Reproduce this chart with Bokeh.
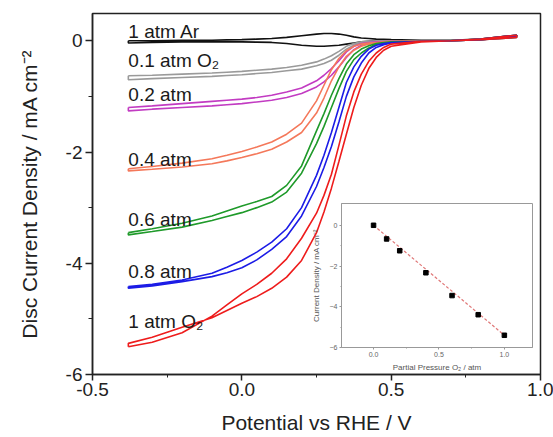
from bokeh.plotting import figure
from bokeh.models import FixedTicker
from bokeh.layouts import column
from bokeh.core.properties import value
from bokeh.embed import file_html
from bokeh.resources import INLINE

# ---------------- data ----------------
potential = [-0.38, -0.3, -0.2, -0.1, -0.05, 0.0, 0.05, 0.1, 0.15, 0.2, 0.25, 0.275, 0.3,
             0.325, 0.35, 0.375, 0.4, 0.425, 0.45, 0.475, 0.5, 0.6, 0.7, 0.8, 0.92]

ar_fwd = [0.0, 0.0, 0.01, 0.01, 0.015, 0.02, 0.03, 0.04, 0.06, 0.09, 0.12, 0.13, 0.13, 0.12, 0.10, 0.07, 0.05, 0.04, 0.03, 0.025, 0.02, 0.01, 0.01, 0.03, 0.10]
ar_rev = [-0.04, -0.03, -0.02, -0.02, -0.02, -0.02, -0.025, -0.03, -0.05, -0.08, -0.10, -0.10, -0.09, -0.08, -0.06, -0.04, -0.02, -0.01, 0.0, 0.005, 0.01, 0.01, 0.0, 0.02, 0.06]

o01_fwd = [-0.63, -0.62, -0.60, -0.58, -0.565, -0.55, -0.53, -0.51, -0.48, -0.44, -0.38, -0.33, -0.27, -0.19, -0.10, -0.05, -0.02, -0.01, 0.0, 0.0, 0.0, 0.0, 0.0, 0.02, 0.07]
o01_rev = [-0.70, -0.68, -0.66, -0.64, -0.625, -0.61, -0.59, -0.57, -0.54, -0.51, -0.45, -0.41, -0.35, -0.26, -0.15, -0.08, -0.04, -0.02, -0.01, 0.0, 0.0, 0.0, 0.0, 0.02, 0.08]

o02_fwd = [-1.20, -1.17, -1.13, -1.09, -1.07, -1.05, -1.02, -0.98, -0.92, -0.85, -0.72, -0.62, -0.50, -0.36, -0.20, -0.10, -0.05, -0.03, -0.02, -0.015, -0.01, 0.0, 0.0, 0.02, 0.07]
o02_rev = [-1.26, -1.23, -1.20, -1.17, -1.15, -1.13, -1.10, -1.07, -1.02, -0.95, -0.83, -0.74, -0.62, -0.47, -0.30, -0.16, -0.08, -0.05, -0.03, -0.02, -0.01, 0.0, 0.0, 0.02, 0.08]

o04_fwd = [-2.30, -2.26, -2.20, -2.12, -2.06, -1.99, -1.91, -1.82, -1.68, -1.48, -1.08, -0.80, -0.52, -0.32, -0.18, -0.10, -0.06, -0.04, -0.03, -0.02, -0.01, 0.0, 0.0, 0.02, 0.08]
o04_rev = [-2.34, -2.31, -2.27, -2.21, -2.16, -2.10, -2.03, -1.95, -1.82, -1.65, -1.30, -1.03, -0.72, -0.47, -0.28, -0.17, -0.10, -0.06, -0.04, -0.03, -0.02, -0.01, 0.0, 0.03, 0.10]

o06_fwd = [-3.45, -3.38, -3.28, -3.15, -3.06, -2.97, -2.89, -2.80, -2.60, -2.25, -1.62, -1.31, -0.98, -0.68, -0.42, -0.25, -0.15, -0.09, -0.05, -0.03, -0.02, -0.01, 0.0, 0.02, 0.08]
o06_rev = [-3.49, -3.43, -3.35, -3.23, -3.16, -3.09, -3.00, -2.90, -2.72, -2.38, -1.85, -1.54, -1.20, -0.86, -0.55, -0.34, -0.22, -0.13, -0.07, -0.045, -0.03, -0.01, 0.0, 0.03, 0.10]

o08_fwd = [-4.42, -4.38, -4.30, -4.18, -4.07, -3.95, -3.80, -3.62, -3.38, -3.00, -2.42, -2.06, -1.65, -1.20, -0.75, -0.47, -0.28, -0.15, -0.08, -0.05, -0.03, -0.01, 0.0, 0.02, 0.08]
o08_rev = [-4.45, -4.41, -4.33, -4.24, -4.17, -4.08, -3.94, -3.75, -3.52, -3.15, -2.62, -2.28, -1.90, -1.46, -1.00, -0.65, -0.40, -0.22, -0.12, -0.07, -0.04, -0.01, 0.0, 0.03, 0.10]

o10_fwd = [-5.50, -5.42, -5.25, -4.95, -4.75, -4.55, -4.38, -4.18, -3.92, -3.55, -3.10, -2.78, -2.40, -1.88, -1.35, -0.92, -0.60, -0.37, -0.22, -0.12, -0.06, -0.01, 0.0, 0.02, 0.06]
o10_rev = [-5.44, -5.33, -5.15, -4.98, -4.85, -4.72, -4.60, -4.45, -4.25, -3.95, -3.45, -3.08, -2.65, -2.17, -1.68, -1.20, -0.80, -0.50, -0.30, -0.17, -0.10, -0.02, 0.0, 0.03, 0.10]

curve_labels = ["1 atm Ar", "0.1 atm O\u2082", "0.2 atm", "0.4 atm", "0.6 atm", "0.8 atm", "1 atm O\u2082"]
label_x = [-0.38, -0.38, -0.38, -0.38, -0.38, -0.38, -0.38]
label_y = [0.16, -0.36, -0.97, -2.14, -3.21, -4.15, -5.05]
curve_colors = ["#111111", "#9a9a9a", "#c23bc2", "#f4785a", "#1f9a2a", "#1c1ce6", "#ee1c1c"]

pressure = [0.0, 0.1, 0.2, 0.4, 0.6, 0.8, 1.0]
limit_current = [0.0, -0.67, -1.25, -2.33, -3.45, -4.39, -5.40]
fit_x = [0.0, 1.0]
fit_y = [0.0, -5.40]

x_ticks = [-0.5, 0.0, 0.5, 1.0]
x_minor = [-0.25, 0.25, 0.75]
y_ticks = [-6, -4, -2, 0]
y_minor = [-5, -3, -1]

FONT = "Liberation Sans"

# ---------------- main figure ----------------
p = figure(width=553, height=437, x_range=(-0.5, 1.0), y_range=(-6, 0.49),
           output_backend="svg", toolbar_location=None,
           min_border_left=92, min_border_right=13, min_border_top=13, min_border_bottom=63)
p.grid.visible = False
p.outline_line_color = "#222222"
p.outline_line_width = 1.5
p.background_fill_color = "white"
p.border_fill_color = "white"

for ax in (p.xaxis[0], p.yaxis[0]):
    ax.axis_line_color = "#222222"
    ax.axis_line_width = 1.5
    ax.major_tick_line_color = "#222222"
    ax.minor_tick_line_color = "#222222"
    ax.major_tick_line_width = 1.5
    ax.major_label_text_font = FONT
    ax.major_label_text_font_size = "19px"
    ax.major_label_text_color = "#222222"
    ax.axis_label_text_font = FONT
    ax.axis_label_text_font_size = "21px"
    ax.axis_label_text_font_style = "normal"
    ax.axis_label_text_color = "#222222"
    ax.major_tick_in = 0
    ax.minor_tick_in = 0

p.xaxis.ticker = FixedTicker(ticks=x_ticks, minor_ticks=x_minor)
p.yaxis.ticker = FixedTicker(ticks=y_ticks, minor_ticks=y_minor)
p.xaxis.major_tick_out = 6
p.xaxis.minor_tick_out = 3
p.yaxis.major_tick_out = 7
p.yaxis.minor_tick_out = 4
p.xaxis.major_label_overrides = {-0.5: "-0.5", 0.0: "0.0", 0.5: "0.5", 1.0: "1.0"}
p.yaxis.major_label_overrides = {-6: "-6", -4: "-4", -2: "-2", 0: "0"}
p.xaxis.major_label_standoff = 2
p.yaxis.major_label_standoff = 3
p.xaxis.axis_label = "Potential vs RHE / V"
p.yaxis.axis_label = "Disc Current Density / mA cm\u207b\u00b2"
p.xaxis.axis_label_standoff = 12
p.yaxis.axis_label_standoff = 22

series = [(ar_fwd, ar_rev), (o01_fwd, o01_rev), (o02_fwd, o02_rev), (o04_fwd, o04_rev),
          (o06_fwd, o06_rev), (o08_fwd, o08_rev), (o10_fwd, o10_rev)]
for (fwd, rev), col in zip(series, curve_colors):
    assert len(fwd) == len(potential) and len(rev) == len(potential)
    xs = potential + potential[::-1] + [potential[0]]
    ys = fwd + rev[::-1] + [fwd[0]]
    p.line(xs, ys, line_color=col, line_width=1.6)

p.text(x=label_x, y=label_y, text=curve_labels, text_font=value(FONT),
       text_font_size="19px", text_color="#1a1a1a", text_baseline="middle", text_align="left")

# ---------------- inset ----------------
# borders equal to the main figure's (a column aligns left/right borders)
ins = figure(width=296, height=176, x_range=(-0.245, 1.215), y_range=(-6, 1.07),
             output_backend="svg", toolbar_location=None,
             min_border_left=92, min_border_right=13, min_border_top=5, min_border_bottom=26)
ins.grid.visible = False
ins.border_fill_alpha = 0.0
ins.background_fill_color = "white"
ins.outline_line_color = "#999999"
ins.outline_line_width = 1
for ax in (ins.xaxis[0], ins.yaxis[0]):
    ax.axis_line_color = "#999999"
    ax.major_tick_line_color = "#999999"
    ax.minor_tick_line_color = "#999999"
    ax.major_label_text_font = FONT
    ax.major_label_text_font_size = "7px"
    ax.major_label_text_color = "#666666"
    ax.axis_label_text_font = FONT
    ax.axis_label_text_font_size = "8px"
    ax.axis_label_text_font_style = "normal"
    ax.axis_label_text_color = "#555555"
    ax.major_tick_in = 0
    ax.major_tick_out = 2
    ax.minor_tick_in = 0
    ax.minor_tick_out = 1
    ax.major_label_standoff = 2
ins.xaxis.ticker = FixedTicker(ticks=[0.0, 0.5, 1.0], minor_ticks=[0.25, 0.75])
ins.yaxis.ticker = FixedTicker(ticks=[-6, -4, -2, 0], minor_ticks=[-5, -3, -1])
ins.xaxis.major_label_overrides = {0.0: "0.0", 0.5: "0.5", 1.0: "1.0"}
ins.xaxis.axis_label = "Partial Pressure O\u2082 / atm"
ins.yaxis.axis_label = "Current Density / mA cm\u207b\u00b2"
ins.xaxis.axis_label_standoff = 3
ins.yaxis.axis_label_standoff = 6

ins.line(fit_x, fit_y, line_color="#e07878", line_width=1.2, line_dash="3 2")
ins.scatter(pressure, limit_current, marker="square", size=4.5, fill_color="black", line_color="black")

ins.margin = (-(437 - 198), 0, 0, 341 - 92)

layout = column(p, ins, margin=0, spacing=0)
open("out.html", "w").write(file_html(layout, INLINE))
